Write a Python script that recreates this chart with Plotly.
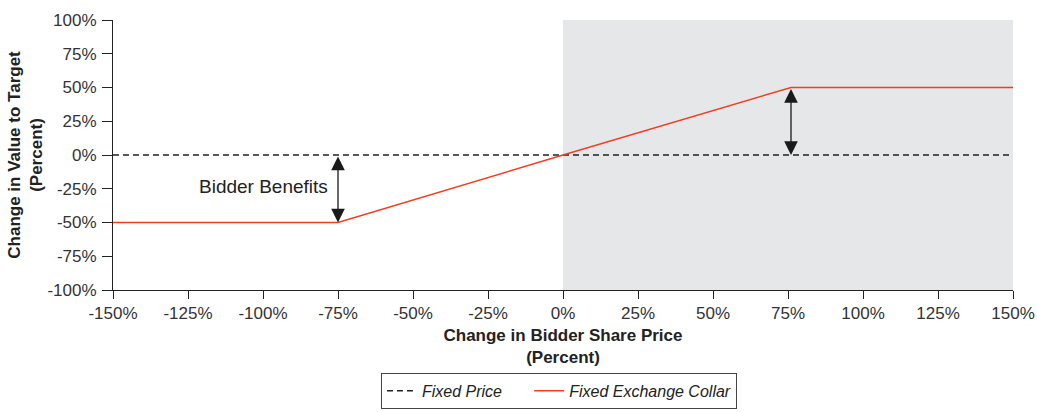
import plotly.graph_objects as go

# Data
fixed_price_x = [-150, 150]
fixed_price_y = [0, 0]
collar_x = [-150, -75, 0, 76, 150]
collar_y = [-50, -50, 0, 50, 50]
x_ticks = [-150, -125, -100, -75, -50, -25, 0, 25, 50, 75, 100, 125, 150]
y_ticks = [-100, -75, -50, -25, 0, 25, 50, 75, 100]
shade_range = [0, 150]
arrow_left = {"x": -75, "y_from": 0, "y_to": -50}
arrow_right = {"x": 76, "y_from": 50, "y_to": 0}
label_text = "Bidder Benefits"
label_pos = (-100, -23)

FONT = "Liberation Sans, Arial, sans-serif"
NB = "\u00a0"

fig = go.Figure()

fig.add_trace(go.Scatter(
    x=fixed_price_x, y=fixed_price_y, mode="lines", name="Fixed Price" + NB * 5,
    line=dict(color="#222222", width=1.3, dash="6px,4px"),
))
fig.add_trace(go.Scatter(
    x=collar_x, y=collar_y, mode="lines", name="Fixed Exchange Collar",
    line=dict(color="rgb(240,62,32)", width=1.4),
))

fig.add_shape(type="rect", xref="x", yref="y",
              x0=shade_range[0], x1=shade_range[1], y0=-100, y1=100,
              fillcolor="#e6e7e9", line=dict(width=0), layer="below")

for a in (arrow_left, arrow_right):
    fig.add_annotation(
        x=a["x"], y=a["y_to"], ax=a["x"], ay=a["y_from"],
        xref="x", yref="y", axref="x", ayref="y",
        text="", showarrow=True, arrowhead=2, startarrowhead=2,
        arrowside="end+start", arrowsize=2.1, startarrowsize=2.1,
        arrowwidth=1.3, arrowcolor="#1a1a1a",
    )

fig.add_annotation(x=label_pos[0], y=label_pos[1], xref="x", yref="y",
                   text=label_text, showarrow=False,
                   font=dict(family=FONT, size=19, color="#222"))

fig.update_layout(
    width=1037, height=412,
    margin=dict(l=113, r=24, t=20, b=122),
    plot_bgcolor="white", paper_bgcolor="white",
    font=dict(family=FONT, size=16, color="#222"),
    showlegend=True,
    legend=dict(
        orientation="h", xref="container", yref="container",
        x=0.539, xanchor="center", y=0.095, yanchor="top",
        bordercolor="#444444", borderwidth=1,
        font=dict(family=FONT, size=16, color="#222", style="italic"),
        tracegroupgap=0,
    ),
)

fig.update_xaxes(
    range=[-150, 150], tickvals=x_ticks,
    ticktext=[f"{v}%" for v in x_ticks],
    showgrid=False, zeroline=False, showline=True, linecolor="#222", linewidth=1,
    ticks="outside", ticklen=8, tickcolor="#222", automargin=False,
    tickfont=dict(family=FONT, size=17, color="#333"),
    title=dict(text="<b>Change in Bidder Share Price<br>(Percent)</b>",
               font=dict(family=FONT, size=17, color="#222"), standoff=6),
)
fig.update_yaxes(
    range=[-100, 100], tickvals=y_ticks,
    ticktext=[f"{v}%" for v in y_ticks],
    showgrid=False, zeroline=False, showline=True, linecolor="#222", linewidth=1,
    ticks="outside", ticklen=10, tickcolor="#222", automargin=False,
    ticklabelstandoff=2,
    tickfont=dict(family=FONT, size=17, color="#333"),
    title=dict(text="<b>Change in Value to Target<br>(Percent)</b>",
               font=dict(family=FONT, size=17, color="#222"), standoff=0),
)

fig.write_html("out.html", config={"displayModeBar": False},
               post_script="document.body.style.margin='0';")
